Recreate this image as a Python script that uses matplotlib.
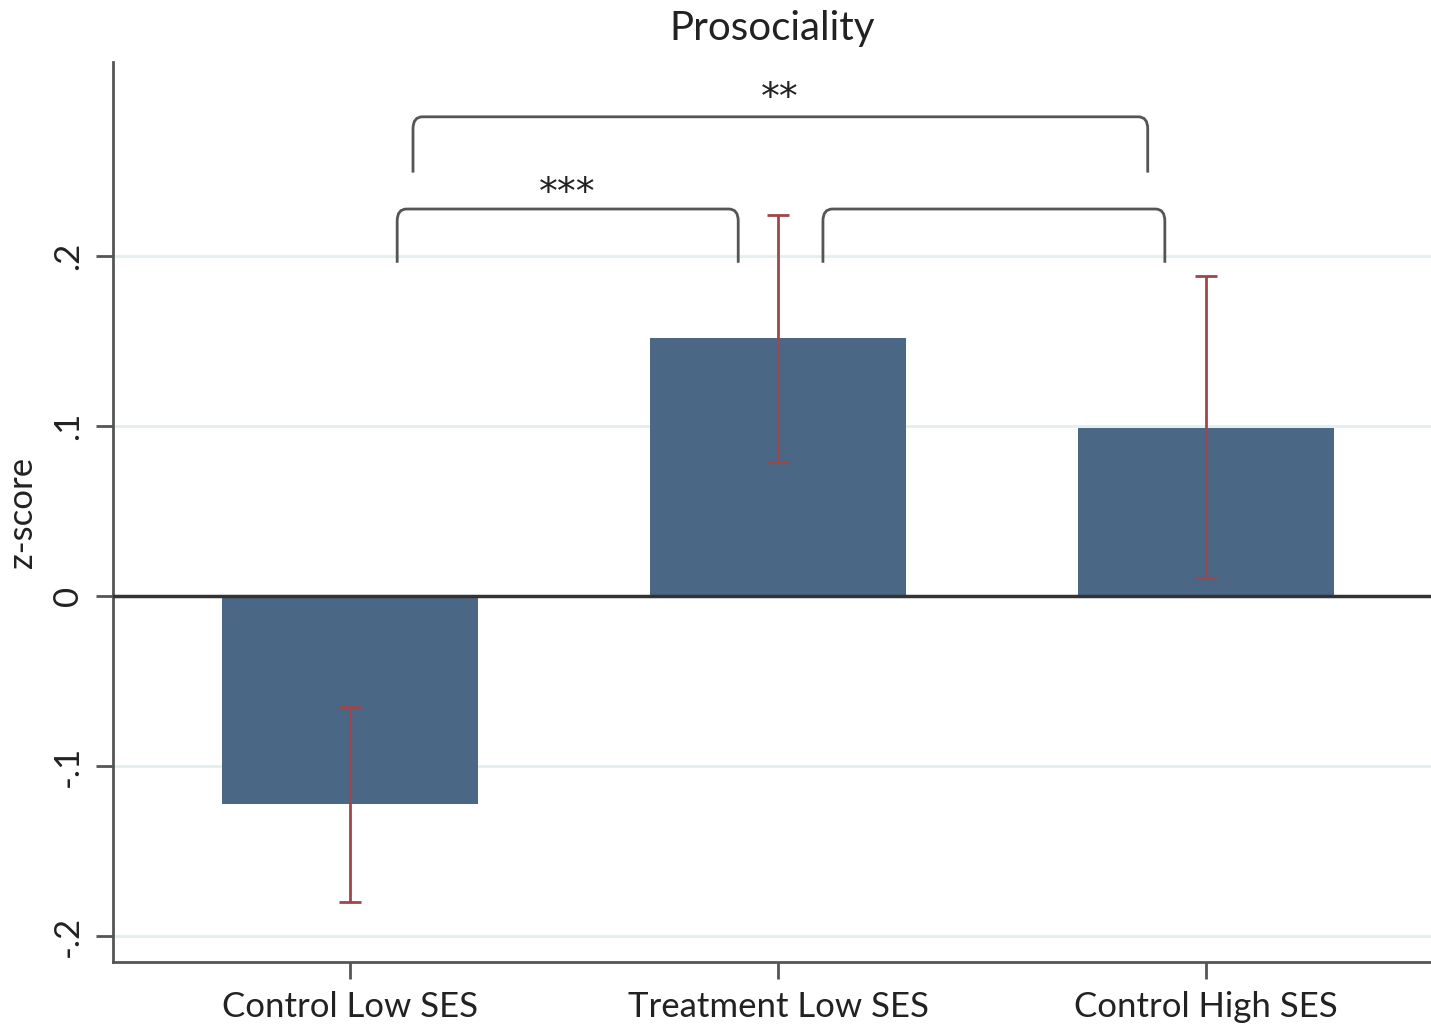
import numpy as np
import matplotlib
matplotlib.use('Agg')
import matplotlib.pyplot as plt
from matplotlib.path import Path
from matplotlib.patches import PathPatch

plt.rcParams['font.family'] = ['Lato', 'DejaVu Sans']

# data
groups = ['Control Low SES', 'Treatment Low SES', 'Control High SES']
means = [-0.122, 0.152, 0.099]
ci_low = [-0.180, 0.079, 0.011]
ci_high = [-0.065, 0.224, 0.188]
yticks = [-0.2, -0.1, 0, 0.1, 0.2]
ytick_labels = ['-.2', '-.1', '0', '.1', '.2']

bar_color = '#4a6886'
err_color = '#a0464a'
grid_color = '#e4eef1'

fig = plt.figure(figsize=(14.31, 10.27), dpi=100)
ax = fig.add_axes([0.079, 0.0633, 0.921, 0.8763])

x = np.arange(len(groups))
for yy in yticks:
    if yy != 0:
        ax.axhline(yy, color=grid_color, lw=2, zorder=0)

ax.bar(x, means, width=0.6, color=bar_color, zorder=2)
ax.axhline(0, color='#333333', lw=2.5, zorder=3)

lo = np.array(means) - np.array(ci_low)
hi = np.array(ci_high) - np.array(means)
ax.errorbar(x, means, yerr=[lo, hi], fmt='none', ecolor=err_color,
            elinewidth=2, capsize=8, capthick=2, zorder=4)


def bracket(x0, x1, ybot, ytop, rx=0.022, ry=0.007):
    verts = [(x0, ybot), (x0, ytop - ry), (x0, ytop), (x0 + rx, ytop),
             (x1 - rx, ytop), (x1, ytop), (x1, ytop - ry), (x1, ybot)]
    codes = [Path.MOVETO, Path.LINETO, Path.CURVE3, Path.CURVE3,
             Path.LINETO, Path.CURVE3, Path.CURVE3, Path.LINETO]
    ax.add_patch(PathPatch(Path(verts, codes), fill=False, ec='#555555',
                           lw=2, zorder=5, clip_on=False))


bracket(0.11, 0.907, 0.196, 0.2276)
bracket(1.105, 1.904, 0.196, 0.2276)
bracket(0.147, 1.864, 0.249, 0.2818)
ax.text(0.508, 0.2365, '***', ha='center', va='center', fontsize=27,
        color='#222222', family='DejaVu Sans')
ax.text(1.005, 0.2925, '**', ha='center', va='center', fontsize=27,
        color='#222222', family='DejaVu Sans')

ax.set_xlim(-0.554, 2.526)
ax.set_ylim(-0.215, 0.314)
ax.set_xticks(x)
ax.set_xticklabels(groups, fontsize=25, color='#222222')
ax.set_yticks(yticks)
ax.set_yticklabels(ytick_labels, rotation=90, va='center', fontsize=25, color='#222222')
ax.tick_params(axis='both', length=12, width=2, color='#555555', pad=9)
ax.set_ylabel('z-score', fontsize=25, color='#222222', labelpad=10)
ax.set_title('Prosociality', fontsize=29, color='#222222', pad=16)

for s in ['top', 'right']:
    ax.spines[s].set_visible(False)
for s in ['left', 'bottom']:
    ax.spines[s].set_color('#555555')
    ax.spines[s].set_linewidth(2)

fig.savefig('out.png', dpi=100)
